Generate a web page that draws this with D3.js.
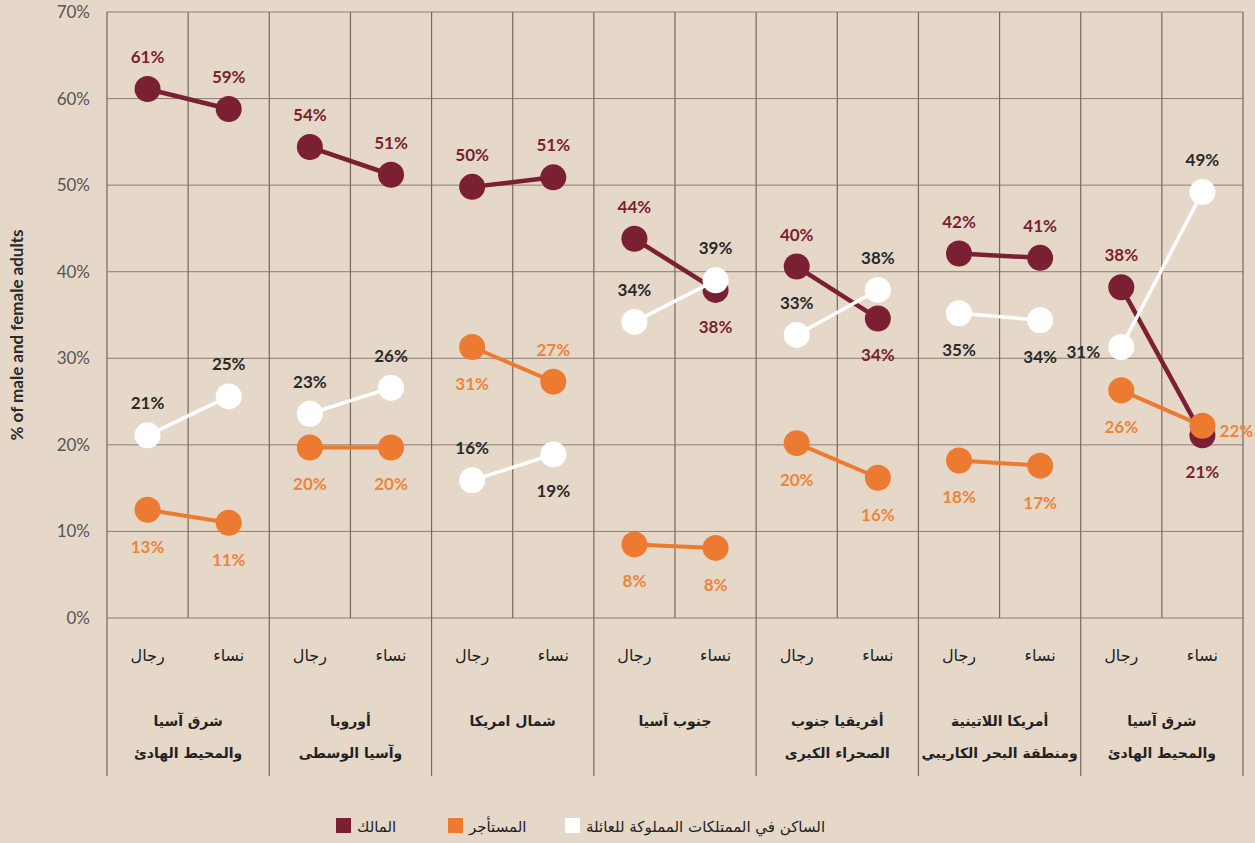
<!DOCTYPE html>
<html>
<head>
<meta charset="utf-8">
<script src="https://cdn.jsdelivr.net/npm/d3@7"></script>
<style>
  body { margin: 0; background: #e6d8c8; }
  svg { display: block; }
</style>
</head>
<body>
<div id="chart"></div>
<script>
// regiones (dos líneas por etiqueta)
const groups = [
  ["شرق آسيا", "والمحيط الهادئ"],
  ["أوروبا", "وآسيا الوسطى"],
  ["شمال امريكا"],
  ["جنوب آسيا"],
  ["أفريقيا جنوب", "الصحراء الكبرى"],
  ["أمريكا اللاتينية", "ومنطقة البحر الكاريبي"],
  ["شرق آسيا", "والمحيط الهادئ"]
];
const sexes = ["رجال", "نساء"];
const yTicks = [0, 10, 20, 30, 40, 50, 60, 70];

// valores [hombres, mujeres] por región
const owner = [[61.1, 58.8], [54.4, 51.2], [49.8, 50.9], [43.8, 37.9], [40.6, 34.6], [42.1, 41.6], [38.2, 21.1]];
const renter = [[12.5, 11.0], [19.7, 19.7], [31.3, 27.3], [8.5, 8.1], [20.2, 16.2], [18.2, 17.6], [26.3, 22.2]];
const family = [[21.1, 25.6], [23.6, 26.6], [15.9, 18.9], [34.2, 39.0], [32.7, 37.9], [35.2, 34.4], [31.3, 49.2]];

// etiquetas tal como aparecen
const ownerLabels = [[61, 59], [54, 51], [50, 51], [44, 38], [40, 34], [42, 41], [38, 21]];
const renterLabels = [[13, 11], [20, 20], [31, 27], [8, 8], [20, 16], [18, 17], [26, 22]];
const familyLabels = [[21, 25], [23, 26], [16, 19], [34, 39], [33, 38], [35, 34], [31, 49]];

const legendNames = ["المالك", "المستأجر", "الساكن في الممتلكات المملوكة للعائلة"];

// colocación de etiquetas: a = arriba, b = abajo, l = izquierda, r = derecha
const ownerPos = [["a", "a"], ["a", "a"], ["a", "a"], ["a", "b"], ["a", "b"], ["a", "a"], ["a", "b"]];
const renterPos = [["b", "b"], ["b", "b"], ["b", "a"], ["b", "b"], ["b", "b"], ["b", "b"], ["b", "r"]];
const familyPos = [["a", "a"], ["a", "a"], ["a", "b"], ["a", "a"], ["a", "a"], ["b", "b"], ["l", "a"]];

const width = 1255, height = 843;
const plotLeft = 107, plotRight = 1243, plotTop = 12, plotBottom = 618;

const svg = d3.select("#chart").append("svg")
  .attr("width", width)
  .attr("height", height);

svg.append("rect").attr("width", width).attr("height", height).attr("fill", "#e6d8c8");

const y = d3.scaleLinear().domain([0, 70]).range([plotBottom, plotTop]);
const x = d3.scaleBand().domain(d3.range(groups.length)).range([plotLeft, plotRight]);
const xs = d3.scaleBand().domain([0, 1]).range([0, x.bandwidth()]);
const cx = (g, s) => x(g) + xs(s) + xs.bandwidth() / 2;

const gridColor = "#76685c";

// líneas horizontales
svg.append("g").selectAll("line")
  .data(yTicks)
  .enter().append("line")
  .attr("x1", plotLeft).attr("x2", plotRight)
  .attr("y1", d => y(d)).attr("y2", d => y(d))
  .attr("stroke", gridColor).attr("stroke-width", 1).attr("opacity", 0.8);

// líneas verticales entre regiones
svg.append("g").selectAll("line")
  .data(d3.range(groups.length + 1))
  .enter().append("line")
  .attr("x1", d => plotLeft + d * x.bandwidth()).attr("x2", d => plotLeft + d * x.bandwidth())
  .attr("y1", plotTop).attr("y2", 776)
  .attr("stroke", gridColor).attr("stroke-width", 1.2);

// líneas entre hombres y mujeres
svg.append("g").selectAll("line")
  .data(d3.range(groups.length))
  .enter().append("line")
  .attr("x1", d => x(d) + xs(1)).attr("x2", d => x(d) + xs(1))
  .attr("y1", plotTop).attr("y2", plotBottom)
  .attr("stroke", gridColor).attr("stroke-width", 1.2);

// eje y
const yAxis = svg.append("g")
  .attr("transform", `translate(${plotLeft},0)`)
  .call(d3.axisLeft(y).tickValues(yTicks).tickSize(0).tickPadding(17).tickFormat(d => d + "%"));
yAxis.select(".domain").remove();
yAxis.selectAll("text")
  .attr("fill", "#555")
  .style("font-family", "Lato, 'DejaVu Sans', sans-serif")
  .style("font-size", "17px");

svg.append("text")
  .attr("transform", `translate(23,335) rotate(-90)`)
  .attr("text-anchor", "middle")
  .attr("fill", "#2a2a2a")
  .style("font-family", "Lato, 'DejaVu Sans', sans-serif")
  .style("font-weight", "700")
  .style("font-size", "17px")
  .text("% of male and female adults");

// rótulos hombres / mujeres
const arFont = "'DejaVu Sans', sans-serif";
groups.forEach((g, i) => {
  sexes.forEach((s, j) => {
    svg.append("text")
      .attr("x", cx(i, j))
      .attr("y", 661)
      .attr("text-anchor", "middle")
      .attr("fill", "#222")
      .style("font-family", arFont)
      .style("font-size", "16px")
      .text(s);
  });
  g.forEach((line, k) => {
    svg.append("text")
      .attr("x", x(i) + x.bandwidth() / 2)
      .attr("y", 726 + k * 32)
      .attr("text-anchor", "middle")
      .attr("fill", "#222")
      .style("font-family", arFont)
      .style("font-weight", "700")
      .style("font-size", "14px")
      .text(line);
  });
});

// series
const series = [
  { vals: owner, labels: ownerLabels, pos: ownerPos, color: "#7b1f33", text: "#7b1f33", lw: 4.5 },
  { vals: renter, labels: renterLabels, pos: renterPos, color: "#ec7a30", text: "#ec843c", lw: 4 },
  { vals: family, labels: familyLabels, pos: familyPos, color: "#ffffff", text: "#2a2a2a", lw: 3.5 }
];

const r = 13;
const off = { a: [0, -32], b: [0, 37], l: [-38, 5], r: [34, 5] };

series.forEach(sr => {
  const g = svg.append("g");
  g.selectAll("line")
    .data(sr.vals)
    .enter().append("line")
    .attr("x1", (d, i) => cx(i, 0)).attr("y1", d => y(d[0]))
    .attr("x2", (d, i) => cx(i, 1)).attr("y2", d => y(d[1]))
    .attr("stroke", sr.color).attr("stroke-width", sr.lw);

  const pts = [];
  sr.vals.forEach((d, i) => d.forEach((v, j) => pts.push({ g: i, s: j, v: v, lab: sr.labels[i][j], p: sr.pos[i][j] })));

  g.selectAll("circle")
    .data(pts)
    .enter().append("circle")
    .attr("cx", d => cx(d.g, d.s))
    .attr("cy", d => y(d.v))
    .attr("r", r)
    .attr("fill", sr.color);

  g.selectAll("text")
    .data(pts)
    .enter().append("text")
    .attr("x", d => cx(d.g, d.s) + off[d.p][0])
    .attr("y", d => y(d.v) + off[d.p][1] + 6)
    .attr("text-anchor", "middle")
    .attr("fill", sr.text)
    .style("font-family", "Lato, 'DejaVu Sans', sans-serif")
    .style("font-weight", "700")
    .style("font-size", "17px")
    .text(d => d.lab + "%");
});

// leyenda
const legendX = [336, 448, 565];
const legendColors = ["#7b1f33", "#ec7a30", "#ffffff"];
legendNames.forEach((name, i) => {
  svg.append("rect")
    .attr("x", legendX[i]).attr("y", 818)
    .attr("width", 15).attr("height", 15)
    .attr("fill", legendColors[i]);
  svg.append("text")
    .attr("x", legendX[i] + 21)
    .attr("y", 832)
    .attr("text-anchor", "start")
    .attr("fill", "#222")
    .style("font-family", arFont)
    .style("font-size", "15px")
    .text(name);
});
</script>
</body>
</html>
